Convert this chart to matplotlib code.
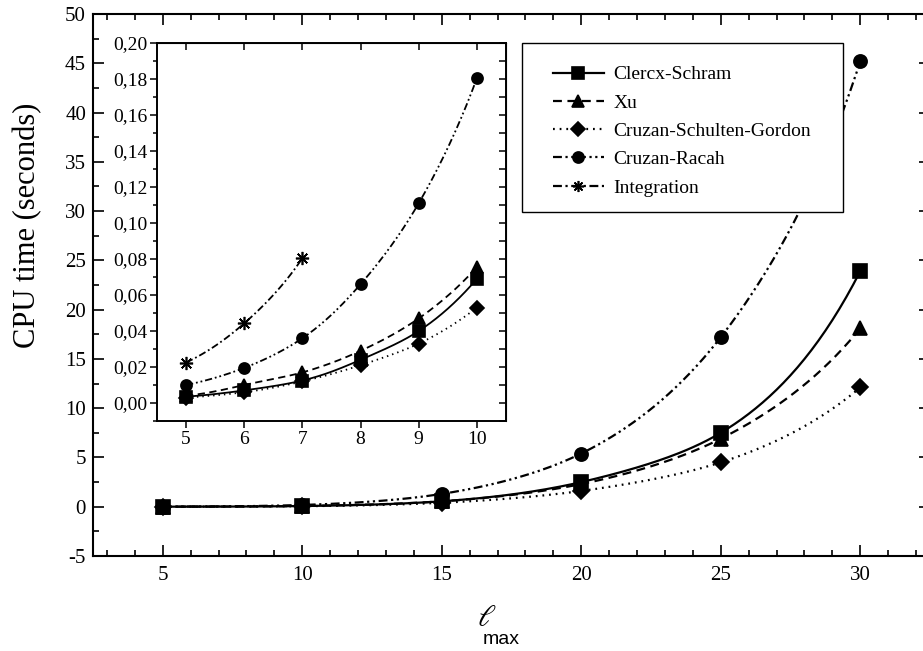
import numpy as np
import matplotlib
matplotlib.use("Agg")
import matplotlib.pyplot as plt
from matplotlib.lines import Line2D
from matplotlib.patches import Rectangle
from matplotlib.ticker import MultipleLocator, FuncFormatter

plt.rcParams['font.family'] = ['Liberation Serif', 'DejaVu Serif']
plt.rcParams['axes.unicode_minus'] = False

# main panel: CPU time (s) vs l_max
lmax = [5, 10, 15, 20, 25, 30]
clercx_schram = [0.0035, 0.07, 0.55, 2.5, 7.5, 23.9]
xu = [0.004, 0.076, 0.55, 2.3, 6.9, 18.1]
cruzan_sg = [0.003, 0.053, 0.4, 1.6, 4.5, 12.1]
cruzan_racah = [0.010, 0.18, 1.3, 5.4, 17.2, 45.2]

# inset: small l_max
lmax_in = [5, 6, 7, 8, 9, 10]
clercx_schram_in = [0.0035, 0.007, 0.0125, 0.024, 0.040, 0.069]
xu_in = [0.004, 0.010, 0.017, 0.029, 0.047, 0.0755]
cruzan_sg_in = [0.003, 0.006, 0.012, 0.021, 0.033, 0.053]
cruzan_racah_in = [0.010, 0.0195, 0.036, 0.066, 0.111, 0.1805]
lmax_int = [5, 6, 7]
integration_in = [0.0225, 0.0443, 0.0805]

labels = ["Clercx-Schram", "Xu", "Cruzan-Schulten-Gordon", "Cruzan-Racah", "Integration"]
linestyles = ["-", (0, (4, 2.5)), (0, (0.8, 2.2)), (0, (4, 1.6, 1, 1.6, 1, 1.6)),
              (0, (4, 1.6, 1, 1.6))]
markers = ["s", "^", "D", "o", (8, 2, 0)]


def smooth(x, y, n=40):
    """Cubic Hermite curve through the points, built in log(y)."""
    x = np.asarray(x, float)
    ly = np.log(np.asarray(y, float))
    h = np.diff(x)
    d = np.diff(ly) / h
    m = np.empty_like(ly)
    m[1:-1] = (d[:-1] + d[1:]) / 2
    m[0], m[-1] = d[0], d[-1]
    xs = np.linspace(x[0], x[-1], n * (len(x) - 1) + 1)
    i = np.clip(np.searchsorted(x, xs, side="right") - 1, 0, len(x) - 2)
    t = (xs - x[i]) / h[i]
    h00 = 2 * t**3 - 3 * t**2 + 1
    h10 = t**3 - 2 * t**2 + t
    h01 = -2 * t**3 + 3 * t**2
    h11 = t**3 - t**2
    out = h00 * ly[i] + h10 * h[i] * m[i] + h01 * ly[i + 1] + h11 * h[i] * m[i + 1]
    return xs, np.exp(out)


def draw(ax, x, y, k, lw, ms):
    xs, ys = smooth(x, y)
    ax.plot(xs, ys, color="k", lw=lw, ls=linestyles[k], zorder=2)
    ax.plot(x, y, ls="none", marker=markers[k], color="k", zorder=3,
            ms=ms * (0.85 if markers[k] == "D" else 1.0), mew=1.2)


fig = plt.figure(figsize=(9.23, 6.51), dpi=100)
W, H = 923, 651

ax = fig.add_axes([93 / W, 1 - 556 / H, 837 / W, 542 / H])
for k, y in enumerate([clercx_schram, xu, cruzan_sg, cruzan_racah]):
    draw(ax, lmax, y, k, 1.6, 9.5)

ax.set_xlim(2.5, 32.5)
ax.set_ylim(-5, 50)
ax.xaxis.set_major_locator(MultipleLocator(5))
ax.xaxis.set_minor_locator(MultipleLocator(1))
ax.yaxis.set_major_locator(MultipleLocator(5))
ax.yaxis.set_minor_locator(MultipleLocator(2.5))
ax.tick_params(which="both", direction="in", top=True, right=True, width=1.2,
               labelsize=15)
ax.tick_params(which="major", length=8)
ax.tick_params(which="minor", length=4)
ax.tick_params(axis="x", pad=7)
ax.tick_params(axis="y", pad=5)
for s in ax.spines.values():
    s.set_linewidth(1.5)

# legend with a plain white box behind it
ax.add_patch(Rectangle((0.5125, 0.6347), 0.3835, 0.3118, transform=ax.transAxes,
                       facecolor="white", edgecolor="k", lw=1.0, zorder=4))
handles = [Line2D([], [], color="k", lw=1.6, ls=linestyles[k], marker=markers[k],
                  ms=8 if k != 2 else 7, mew=1.2) for k in range(5)]
ax.legend(handles, labels, loc="upper left", bbox_to_anchor=(0.5496, 0.9046),
          frameon=False, borderpad=0, borderaxespad=0, fontsize=14,
          handlelength=2.6, handletextpad=0.5, labelspacing=0.55)

fig.text(28 / W, 1 - 225 / H, "CPU time (seconds)", rotation=90, ha="center",
         va="center", fontsize=22)
fig.text(487 / W, 1 - 619 / H, r"$\ell$", ha="center", va="center", fontsize=22,
         math_fontfamily="stix")
fig.text(501 / W, 1 - 640 / H, "max", ha="center", va="center", fontsize=14,
         family="Liberation Sans")

# inset
ax_in = fig.add_axes([157 / W, 1 - 421 / H, 349 / W, 378 / H])
for k, y in enumerate([clercx_schram_in, xu_in, cruzan_sg_in, cruzan_racah_in]):
    draw(ax_in, lmax_in, y, k, 1.3, 8)
draw(ax_in, lmax_int, integration_in, 4, 1.3, 9.5)

ax_in.set_xlim(4.5, 10.5)
ax_in.set_ylim(-0.01, 0.20)
ax_in.xaxis.set_major_locator(MultipleLocator(1))
ax_in.yaxis.set_major_locator(MultipleLocator(0.02))
ax_in.yaxis.set_minor_locator(MultipleLocator(0.01))
ax_in.yaxis.set_major_formatter(FuncFormatter(lambda v, _: f"{v:.2f}".replace(".", ",")))
ax_in.tick_params(which="both", direction="out", width=1.1, labelsize=14)
ax_in.tick_params(which="major", length=5, pad=2)
ax_in.tick_params(which="minor", length=3)
for s in ax_in.spines.values():
    s.set_linewidth(1.4)

top = ax_in.secondary_xaxis("top")
top.xaxis.set_major_locator(MultipleLocator(1))
top.tick_params(direction="in", length=5, width=1.1, labeltop=False)
right = ax_in.secondary_yaxis("right")
right.yaxis.set_major_locator(MultipleLocator(0.01))
right.tick_params(direction="in", length=5, width=1.1, labelright=False)

fig.savefig("out.png", dpi=100)
